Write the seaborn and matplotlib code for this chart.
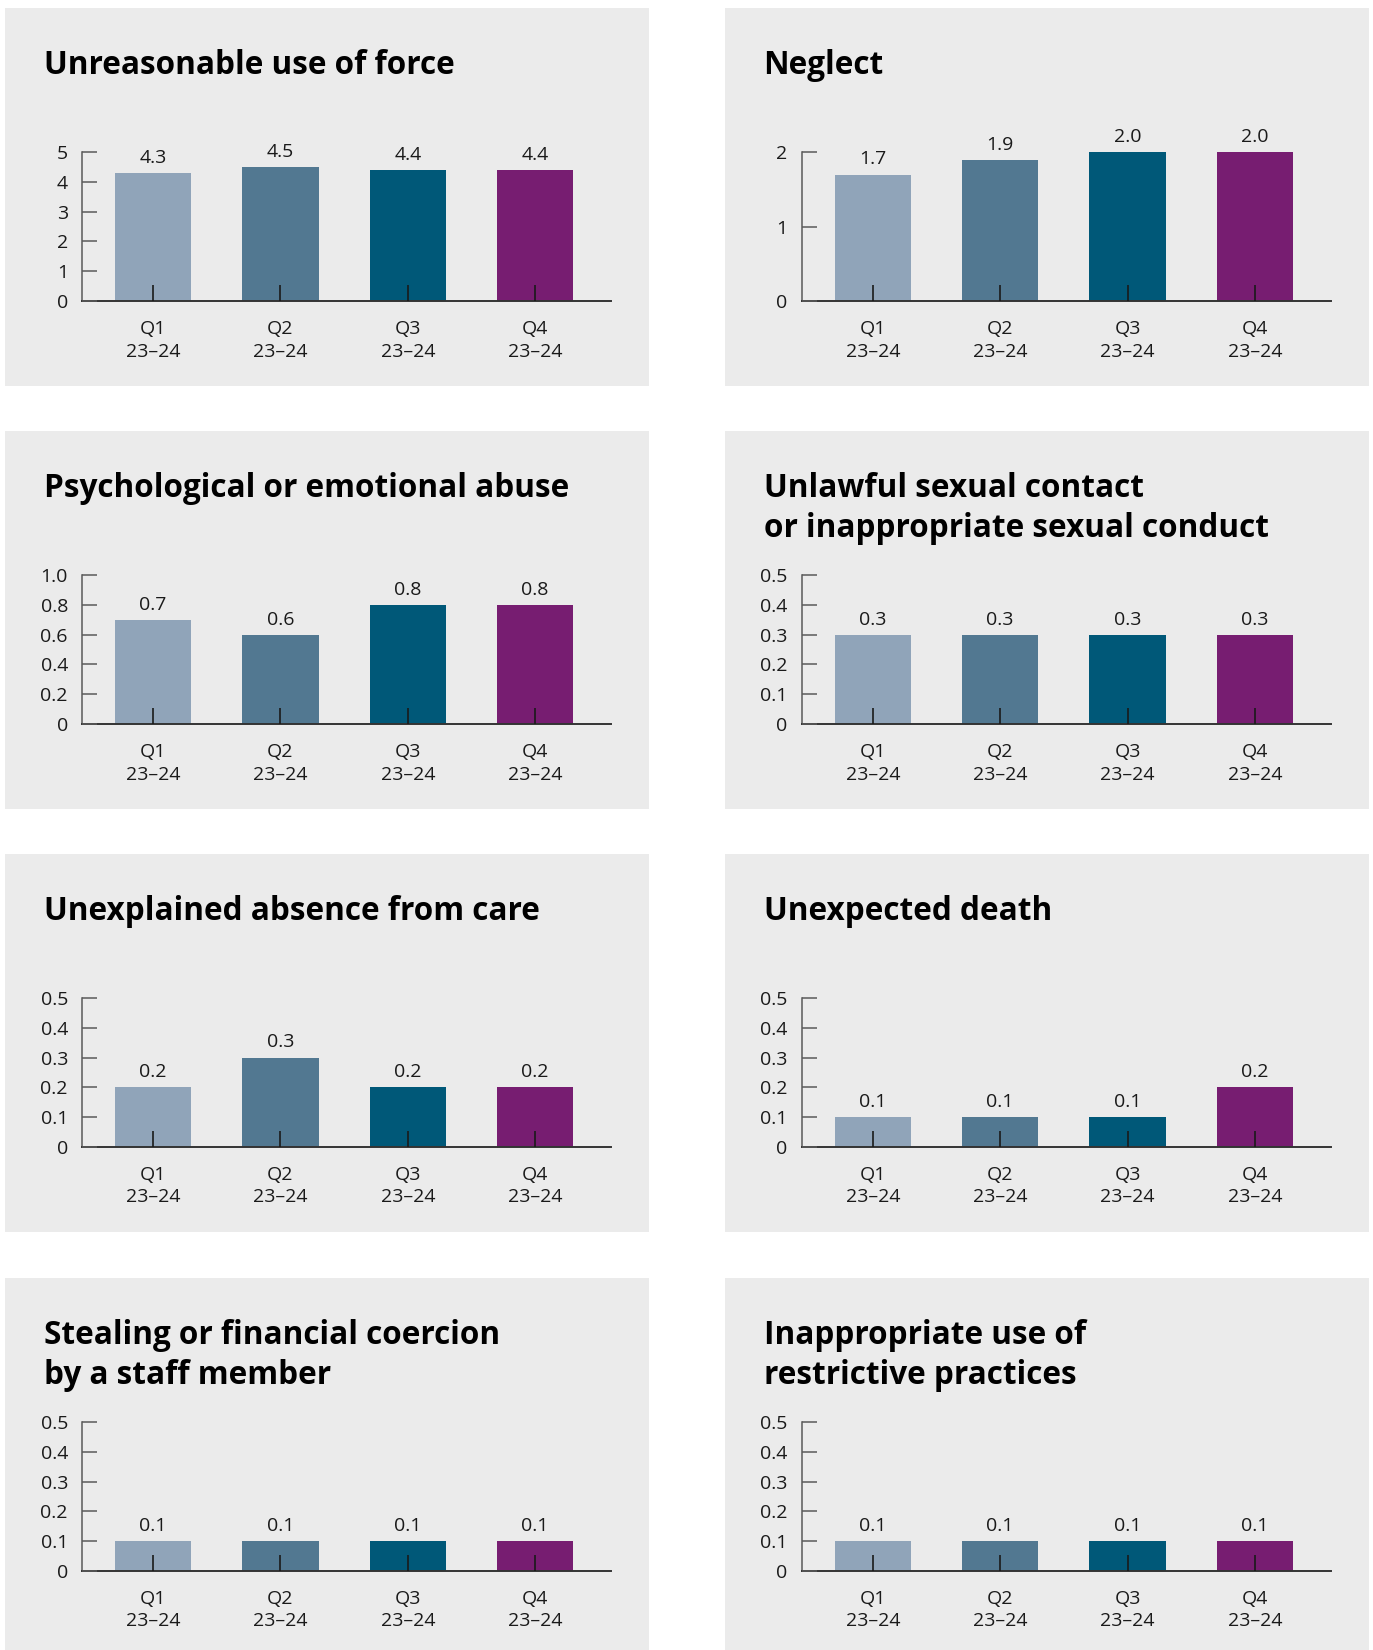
import matplotlib
matplotlib.use("Agg")
import matplotlib.pyplot as plt
from matplotlib.patches import Rectangle
from matplotlib import font_manager as fm
import numpy as np
import pandas as pd
import seaborn as sns

# ---- data -------------------------------------------------------------
quarters = ["Q1\n23–24", "Q2\n23–24", "Q3\n23–24", "Q4\n23–24"]
bar_colors = ["#90A4B9", "#527891", "#005878", "#771D71"]

titles = [
    "Unreasonable use of force",
    "Neglect",
    "Psychological or emotional abuse",
    "Unlawful sexual contact\nor inappropriate sexual conduct",
    "Unexplained absence from care",
    "Unexpected death",
    "Stealing or financial coercion\nby a staff member",
    "Inappropriate use of\nrestrictive practices",
]
force_values = [4.3, 4.5, 4.4, 4.4]
neglect_values = [1.7, 1.9, 2.0, 2.0]
psych_values = [0.7, 0.6, 0.8, 0.8]
sexual_values = [0.3, 0.3, 0.3, 0.3]
absence_values = [0.2, 0.3, 0.2, 0.2]
death_values = [0.1, 0.1, 0.1, 0.2]
stealing_values = [0.1, 0.1, 0.1, 0.1]
restrictive_values = [0.1, 0.1, 0.1, 0.1]
y_max = [5, 2, 1.0, 0.5, 0.5, 0.5, 0.5, 0.5]
y_step = [1, 1, 0.2, 0.1, 0.1, 0.1, 0.1, 0.1]

panel_values = [force_values, neglect_values, psych_values, sexual_values,
                absence_values, death_values, stealing_values, restrictive_values]

# ---- layout (pixels) --------------------------------------------------
W, H, DPI = 1373, 1650, 100
col_x = [5.3, 725.0]
row_y = [8.4, 431.4, 854.3, 1278.3]
panel_w, panel_h = 644, 378
ax_dx, ax_dy, ax_w, ax_h = 76.5, 144.0, 529.0, 148.5
title_dx, title_dy, title_gap = 38.5, 65.5, 40.0

panel_bg = "#EBEBEB"
text_color = "#1A1A1A"

sns.set_style("white")
plt.rcParams["font.family"] = ["Open Sans", "DejaVu Sans"]


def find_title_font():
    """Pick a bold, semi-condensed sans face if one is installed."""
    best = None
    for f in fm.fontManager.ttflist:
        fname = f.fname.replace("-", "").replace("_", "").lower()
        if "notosans" in fname and "semicondensedbold" in fname and "italic" not in fname:
            best = f.fname
            break
    if best:
        return fm.FontProperties(fname=best)
    return fm.FontProperties(family=["Open Sans", "DejaVu Sans"], weight="bold")


title_font = find_title_font()

fig = plt.figure(figsize=(W / DPI, H / DPI), dpi=DPI)
fig.patch.set_facecolor("white")


def tick_text(v, step):
    if v == 0:
        return "0"
    if step >= 1:
        return f"{v:.0f}"
    return f"{v:.1f}"


for i, (title, values) in enumerate(zip(titles, panel_values)):
    x0 = col_x[i % 2]
    y0 = row_y[i // 2]

    fig.patches.append(Rectangle((x0 / W, 1 - (y0 + panel_h) / H), panel_w / W, panel_h / H,
                                 transform=fig.transFigure, facecolor=panel_bg,
                                 edgecolor="none", zorder=-5))

    for k, line in enumerate(title.split("\n")):
        fig.text((x0 + title_dx) / W, 1 - (y0 + title_dy + k * title_gap) / H, line,
                 fontproperties=title_font, fontsize=22.7, color="black",
                 va="baseline", ha="left")

    ax = fig.add_axes([(x0 + ax_dx) / W, 1 - (y0 + ax_dy + ax_h) / H, ax_w / W, ax_h / H])
    ax.set_facecolor(panel_bg)

    df = pd.DataFrame({"quarter": quarters, "value": values})
    sns.barplot(data=df, x="quarter", y="value", hue="quarter", palette=bar_colors,
                width=0.6, saturation=1, legend=False, linewidth=0, ax=ax)

    for cont in ax.containers:
        ax.bar_label(cont, fmt="%.1f", padding=4.5, fontsize=14, color=text_color)

    n_ticks = int(round(y_max[i] / y_step[i]))
    ticks = [round(k * y_step[i], 1) for k in range(n_ticks + 1)]
    ax.set_ylim(0, y_max[i])
    ax.set_yticks(ticks)
    ax.set_yticklabels([tick_text(t, y_step[i]) for t in ticks])
    ax.set_xlim(-0.56, 3.594)
    ax.set_xlabel("")
    ax.set_ylabel("")

    for side in ("top", "right"):
        ax.spines[side].set_visible(False)
    ax.spines["left"].set_color("#5A5A5A")
    ax.spines["left"].set_linewidth(1.1)
    ax.spines["bottom"].set_color("#333333")
    ax.spines["bottom"].set_linewidth(1.4)
    ax.set_axisbelow(False)

    ax.tick_params(axis="y", left=True, direction="in", length=11, width=1.1,
                   color="#5A5A5A", pad=10, labelsize=14, labelcolor=text_color)
    ax.tick_params(axis="x", bottom=True, direction="in", length=11.5, width=1.2,
                   color="#1A1A1A", pad=14, labelsize=14, labelcolor=text_color)
    for lab in ax.get_xticklabels():
        lab.set_linespacing(1.3)

fig.savefig("out.png", dpi=DPI, facecolor="white")
